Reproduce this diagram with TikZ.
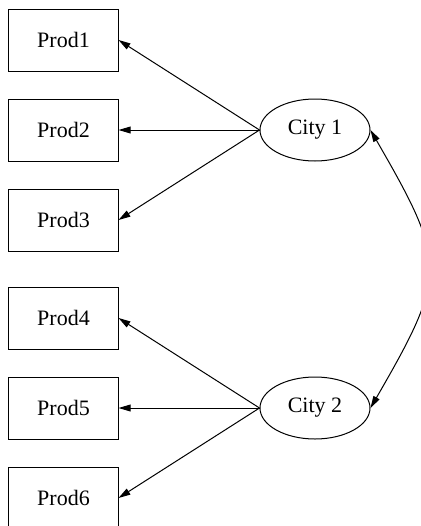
\documentclass[tikz,border=0pt]{standalone}
\usepackage{fontspec}
\setmainfont{Liberation Serif}
\usetikzlibrary{arrows.meta,shapes.geometric,positioning}

\begin{document}
\begin{tikzpicture}[x=0.5pt,y=0.5pt,
	node distance=14pt,
	prod/.style={draw, line width=0.5pt, minimum width=55pt, minimum height=31pt, inner sep=0pt, outer sep=0pt, font=\fontsize{11}{13}\selectfont},
	city/.style={draw, ellipse, line width=0.5pt, minimum width=55pt, minimum height=31pt, inner sep=0pt, font=\fontsize{11}{13}\selectfont},
	load/.style={-{Triangle[length=6pt,width=3.4pt]}, line width=0.5pt},
	corr/.style={{Triangle[length=6pt,width=3.4pt]}-{Triangle[length=6pt,width=3.4pt]}, line width=0.5pt}]

	\clip (0,0) rectangle (421,-526);

	\node[prod] (prod1) at (63.5,-40) {Prod1};
	\node[prod, below=of prod1] (prod2) {Prod2};
	\node[prod, below=of prod2] (prod3) {Prod3};
	\node[prod, below=18pt of prod3] (prod4) {Prod4};
	\node[prod, below=of prod4] (prod5) {Prod5};
	\node[prod, below=of prod5] (prod6) {Prod6};

	\node[city] (city1) at (315,-130) {City 1};
	\node[city] (city2) at (315,-408) {City 2};

	\foreach \p in {1,2,3}
		\draw[load] (city1.west) -- (prod\p.east);
	\foreach \p in {4,5,6}
		\draw[load] (city2.west) -- (prod\p.east);

	\draw[corr] (city1.east) to[out=-60, in=60, looseness=1.42] (city2.east);
\end{tikzpicture}
\end{document}
